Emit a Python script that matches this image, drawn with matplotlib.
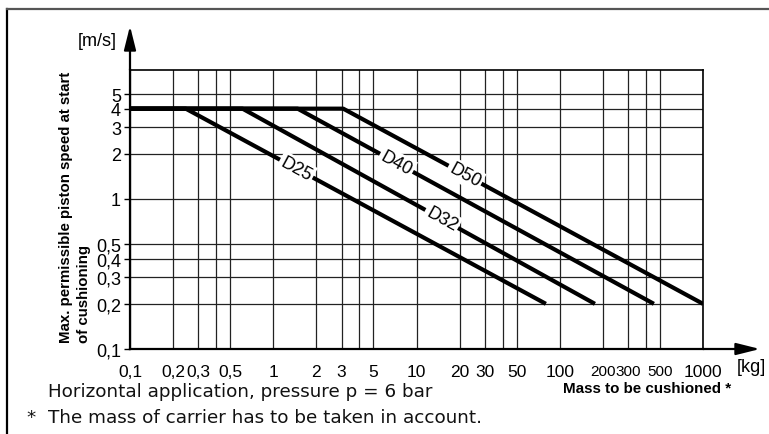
import numpy as np
import matplotlib.pyplot as plt
from matplotlib.lines import Line2D

# --- data ---
cylinders = ['D25', 'D32', 'D40', 'D50']
mass_start = 0.1                      # kg, left end of every curve
mass_knee = [0.245, 0.61, 1.48, 3.08]   # kg, where the 4 m/s plateau ends
mass_end = [80, 176, 454, 1000]         # kg, where the curve reaches 0.2 m/s
speed_max = 4.0                       # m/s
speed_min = 0.2                       # m/s
label_mass = [1.45, 15.0, 7.25, 21.8]   # kg, where the D-labels sit on the curves

x_grid = [0.1, 0.2, 0.3, 0.4, 0.5, 1, 2, 3, 4, 5, 10, 20, 30, 40, 50,
          100, 200, 300, 400, 500, 1000]
x_labels = ['0,1', '0,2', '0,3', '', '0,5', '1', '2', '3', '', '5', '10', '20', '30', '',
            '50', '100', '200', '300', '', '500', '1000']
y_grid = [0.1, 0.2, 0.3, 0.4, 0.5, 1, 2, 3, 4, 5]
y_labels = ['0,1', '0,2', '0,3', '0,4', '0,5', '1', '2', '3', '4', '5']

W, H = 769, 435
fig = plt.figure(figsize=(W / 100, H / 100), dpi=100, facecolor='white')
plt.rcParams['font.family'] = ['Liberation Sans', 'DejaVu Sans']

# axes box in pixels: left 130, right 703, top 71, bottom 350
ax = fig.add_axes([130 / W, 1 - 350 / H, (703 - 130) / W, (350 - 71) / H])
ax.set_xscale('log')
ax.set_yscale('log')
ax.set_xlim(0.1, 1000)
ax.set_ylim(0.1, 7.24)

ax.set_xticks(x_grid)
ax.set_xticklabels(x_labels)
ax.set_yticks(y_grid)
ax.set_yticklabels(y_labels)
ax.xaxis.set_minor_locator(plt.NullLocator())
ax.yaxis.set_minor_locator(plt.NullLocator())
ax.tick_params(axis='x', length=0, pad=10.5, labelsize=12.5)
ax.tick_params(axis='y', length=4, width=1, pad=2.5, labelsize=13, direction='out')
for lab in ax.get_xticklabels():
    if lab.get_text() in ('200', '300', '500'):
        lab.set_fontsize(11)

ax.grid(True, color='#222222', lw=0.9)
ax.set_axisbelow(True)
for side in ['top', 'right']:
    ax.spines[side].set_linewidth(1.2)
for side in ['left', 'bottom']:
    ax.spines[side].set_linewidth(1.6)

# curves
for name, knee, end, lx in zip(cylinders, mass_knee, mass_end, label_mass):
    xs = [mass_start, knee, end]
    ys = [speed_max, speed_max, speed_min]
    ax.plot(xs, ys, color='black', lw=3.0, solid_capstyle='butt', zorder=3)
    ly = 10 ** np.interp(np.log10(lx), np.log10(xs), np.log10(ys))
    p0 = ax.transData.transform((knee, speed_max))
    p1 = ax.transData.transform((end, speed_min))
    ang = np.degrees(np.arctan2(p1[1] - p0[1], p1[0] - p0[0]))
    ax.text(lx, ly, name, rotation=ang, rotation_mode='anchor', ha='center', va='center',
            fontsize=13, zorder=4,
            bbox=dict(facecolor='white', edgecolor='none', pad=1.5))

# axis arrows
arrow = dict(arrowstyle='-|>,head_length=0.4,head_width=0.1', color='black', lw=1.6,
             mutation_scale=36, shrinkA=0, shrinkB=0)
ax.annotate('', xy=(0, (350 - 27) / 279), xytext=(0, 1), xycoords='axes fraction',
            textcoords='axes fraction', arrowprops=arrow, annotation_clip=False)
ax.annotate('', xy=((760 - 130) / 573, 0), xytext=(1, 0), xycoords='axes fraction',
            textcoords='axes fraction', arrowprops=arrow, annotation_clip=False)

# texts
def fx(px):
    return px / W

def fy(py):
    return 1 - py / H

fig.text(fx(97), fy(41), '[m/s]', ha='center', va='center', fontsize=13)
fig.text(fx(751), fy(368), '[kg]', ha='center', va='center', fontsize=13)
fig.text(fx(647), fy(389), 'Mass to be cushioned *', ha='center', va='center',
         fontsize=10.9, fontweight='bold')
fig.text(fx(75), fy(343), 'Max. permissible piston speed at start\nof cushioning',
         rotation=90, ha='center', va='bottom', multialignment='left',
         fontsize=10.8, fontweight='bold', linespacing=1.3)
fig.text(fx(48), fy(392), 'Horizontal application, pressure p = 6 bar', ha='left',
         va='center', fontsize=13.2, family='DejaVu Sans', color='#111111')
fig.text(fx(27), fy(418), '*  The mass of carrier has to be taken in account.', ha='left',
         va='center', fontsize=13.2, family='DejaVu Sans', color='#111111')

# outer frame (left and top only)
fig.add_artist(Line2D([fx(6.5), fx(6.5)], [fy(10), 0], transform=fig.transFigure,
                      color='black', lw=1.6))
fig.add_artist(Line2D([fx(6.5), 1], [fy(10), fy(10)], transform=fig.transFigure,
                      color='#555555', lw=1.6))

fig.savefig('out.png', dpi=100)
